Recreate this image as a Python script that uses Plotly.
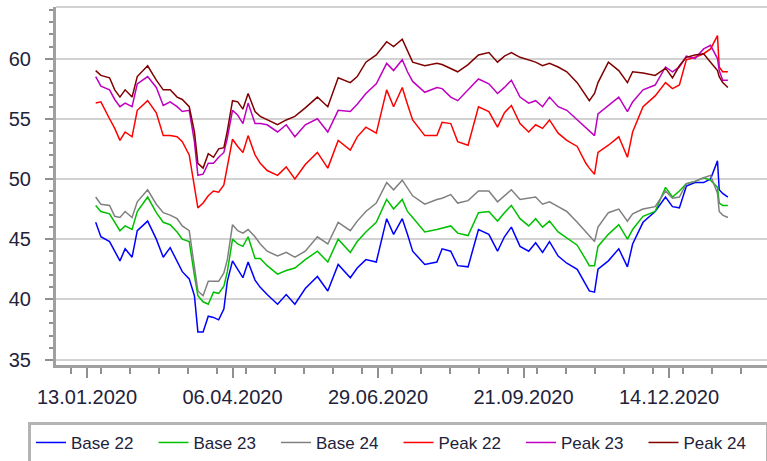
import plotly.graph_objects as go

dates = ['2020-01-18','2020-01-21','2020-01-26','2020-01-29','2020-02-01','2020-02-04','2020-02-08','2020-02-11','2020-02-17','2020-02-22',
         '2020-02-26','2020-03-01','2020-03-05','2020-03-08','2020-03-12','2020-03-15','2020-03-17','2020-03-20','2020-03-23','2020-03-26',
         '2020-03-29','2020-04-01','2020-04-03','2020-04-06','2020-04-09','2020-04-12','2020-04-15','2020-04-19','2020-04-22','2020-04-26',
         '2020-05-02','2020-05-07','2020-05-12','2020-05-18','2020-05-25','2020-05-31','2020-06-06','2020-06-13','2020-06-17','2020-06-22',
         '2020-06-28','2020-07-04','2020-07-08','2020-07-13','2020-07-16','2020-07-19','2020-07-26','2020-08-02','2020-08-05','2020-08-10',
         '2020-08-14','2020-08-20','2020-08-26','2020-09-01','2020-09-06','2020-09-10','2020-09-14','2020-09-19','2020-09-24','2020-09-28',
         '2020-10-02','2020-10-06','2020-10-11','2020-10-16','2020-10-22','2020-10-27','2020-10-29','2020-11-01','2020-11-03','2020-11-09',
         '2020-11-15','2020-11-20','2020-11-23','2020-11-29','2020-12-06','2020-12-12','2020-12-16','2020-12-20','2020-12-24','2020-12-29',
         '2021-01-03','2021-01-07','2021-01-11','2021-01-12','2021-01-14','2021-01-17']

base22 = [46.4,45.2,44.8,44.0,43.2,44.2,43.5,45.7,46.5,45.0,
          43.5,44.3,43.2,42.3,41.7,40.3,37.3,37.3,38.6,38.5,
          38.3,39.2,41.5,43.2,42.5,41.8,43.1,41.6,41.0,40.4,
          39.6,40.4,39.6,40.9,41.9,40.7,42.9,41.8,42.6,43.3,
          43.1,46.7,45.4,46.7,45.4,44.0,42.9,43.1,44.2,44.0,
          42.8,42.7,45.8,45.4,44.0,45.2,46.0,44.4,44.0,44.7,
          43.9,44.8,43.6,43.0,42.5,41.2,40.7,40.6,42.5,43.2,
          44.2,42.7,44.6,46.4,47.3,48.5,47.7,47.6,49.4,49.7,
          49.7,50.0,51.5,49.1,48.8,48.5]

base23 = [47.8,47.3,47.1,46.4,45.7,46.1,45.8,47.3,48.5,47.2,
          46.4,46.2,45.6,45.0,44.8,42.0,40.3,39.8,39.6,40.6,
          40.5,41.1,42.3,45.0,44.6,44.4,45.2,43.4,43.4,42.8,
          42.1,42.4,42.6,43.3,44.0,43.1,45.0,43.9,44.8,45.6,
          46.4,48.3,47.5,48.3,47.3,46.8,45.6,45.8,45.9,46.1,
          45.5,45.3,47.2,47.3,46.5,47.2,47.8,46.7,46.1,46.7,
          46.0,46.5,45.6,45.1,44.5,43.3,42.8,42.8,44.4,45.4,
          46.2,45.0,45.8,46.9,47.3,49.3,48.5,49.0,49.6,49.8,
          50.1,49.9,49.3,48.0,47.8,47.8]

base24 = [48.5,47.9,47.8,46.9,46.8,47.3,46.8,48.1,49.1,47.9,
          47.2,47.0,46.7,46.1,45.7,42.8,40.7,40.3,41.5,41.5,
          41.5,42.2,43.3,46.2,45.7,45.5,45.8,45.2,44.6,44.0,
          43.6,43.9,43.5,44.0,45.2,44.6,46.4,45.7,46.5,47.3,
          48.0,49.7,49.1,49.9,49.2,48.6,47.9,48.3,48.4,48.7,
          48.0,48.2,49.0,49.0,48.1,48.6,49.1,48.3,48.4,48.5,
          47.9,48.1,47.7,47.3,46.4,45.6,45.3,44.8,46.0,47.2,
          47.5,46.5,47.1,47.5,47.7,49.0,48.4,48.5,49.6,49.8,
          50.1,50.3,48.8,47.3,47.0,46.8]

peak22 = [56.3,56.4,55.0,54.2,53.2,53.9,53.5,55.7,56.5,55.5,
          53.6,53.6,53.5,53.1,52.0,49.4,47.6,48.0,48.6,49.0,
          48.9,49.5,51.0,53.3,52.7,52.2,53.6,52.0,51.3,50.7,
          50.3,51.0,50.0,51.2,52.2,50.9,53.2,52.4,53.5,54.3,
          53.8,57.4,56.0,57.6,56.2,54.9,53.6,53.6,54.7,54.6,
          53.1,52.8,56.0,55.6,54.3,55.5,56.1,54.6,53.9,54.5,
          54.2,54.9,53.8,53.2,52.7,51.3,50.9,50.4,52.2,52.8,
          53.5,51.8,53.9,56.0,56.9,58.0,57.5,57.8,59.9,60.1,
          60.4,60.8,61.9,59.3,58.9,58.9]

peak23 = [58.5,57.7,57.4,56.6,56.0,56.3,56.0,57.9,58.5,57.6,
          56.1,56.4,56.0,55.6,55.7,53.1,50.3,50.4,51.3,51.3,
          51.8,52.2,53.4,55.7,55.3,54.6,56.3,54.6,54.6,54.5,
          53.9,54.5,53.5,54.5,55.0,53.9,55.7,55.6,56.2,57.1,
          57.9,59.6,59.0,59.9,58.9,58.1,57.2,57.6,57.5,56.8,
          56.5,57.4,58.3,57.9,57.1,57.6,58.2,56.8,56.3,56.5,
          56.0,56.8,56.0,55.7,54.9,54.3,54.0,53.6,55.4,56.1,
          56.8,55.6,56.4,57.4,57.8,59.3,58.9,59.3,60.2,60.0,
          60.8,61.1,60.0,59.0,58.2,58.2]

peak24 = [59.0,58.6,58.4,57.4,56.8,57.4,56.8,58.5,59.4,58.2,
          57.4,57.4,56.8,56.6,56.0,53.9,51.3,50.9,52.1,51.8,
          52.5,52.6,54.0,56.5,56.4,55.8,57.1,55.6,55.2,54.9,
          54.5,54.9,55.2,55.9,56.8,56.0,58.4,58.0,58.5,59.7,
          60.3,61.4,61.0,61.6,60.7,59.7,59.4,59.6,59.5,59.2,
          58.9,59.5,60.3,60.5,59.7,60.2,60.5,60.1,59.9,59.7,
          59.4,59.6,59.3,58.9,58.0,56.9,56.5,57.1,58.0,59.7,
          59.0,58.0,58.9,58.8,58.6,59.2,58.4,59.4,60.1,60.3,
          60.4,59.7,59.0,58.5,58.0,57.6]

series_names = ['Base 22', 'Base 23', 'Base 24', 'Peak 22', 'Peak 23', 'Peak 24']
series_values = [base22, base23, base24, peak22, peak23, peak24]
series_colors = ['#0000ff', '#00c000', '#808080', '#ff0000', '#c000c0', '#800000']

x_tick_labels = ['13.01.2020', '06.04.2020', '29.06.2020', '21.09.2020', '14.12.2020']

font_family = 'Liberation Sans, Arial, sans-serif'
text_color = '#22223a'
axis_color = '#a0a0a0'
grid_color = '#d2d2d2'

fig = go.Figure()
for name, vals, col in zip(series_names, series_values, series_colors):
    fig.add_trace(go.Scatter(x=dates, y=vals, name=name, mode='lines',
                             line=dict(color=col, width=1.5)))

DAY = 86400000
fig.update_layout(
    width=767, height=461,
    margin=dict(l=56, r=0, t=7, b=96, autoexpand=False),
    paper_bgcolor='white', plot_bgcolor='white',
    font=dict(family=font_family, size=20, color=text_color),
    showlegend=True,
    legend=dict(orientation='h', x=-0.0394, xanchor='left', y=-0.159, yanchor='top',
                bordercolor='#b4b4b4', borderwidth=3, bgcolor='white',
                font=dict(size=17, color=text_color),
                entrywidth=77.5, entrywidthmode='pixels', itemwidth=30,
                traceorder='normal'),
    xaxis=dict(type='date', range=['2019-12-26 02:00', '2021-02-08 14:00'],
               tick0='2020-01-13', dtick=84 * DAY, tickformat='%d.%m.%Y',
               ticks='outside', ticklen=10, tickwidth=2, tickcolor='#909090',
               minor=dict(dtick=84 * DAY / 5, ticks='outside', ticklen=6, tickwidth=2, tickcolor='#909090', showgrid=False),
               showgrid=False, zeroline=False, automargin=False,
               showline=True, linecolor=axis_color, linewidth=3,
               tickfont=dict(size=20, color=text_color), ticklabelstandoff=2),
    yaxis=dict(range=[34.55, 64.28], tick0=35, dtick=5,
               ticks='outside', ticklen=8, tickwidth=2, tickcolor='#909090',
               minor=dict(dtick=1, ticks='outside', ticklen=4, tickwidth=2, tickcolor='#909090', showgrid=False),
               showgrid=True, gridcolor=grid_color, gridwidth=2, automargin=False,
               zeroline=False, showline=True, linecolor=axis_color, linewidth=3,
               tickfont=dict(size=20, color=text_color), ticklabelstandoff=10),
)
fig.add_shape(type='line', xref='paper', yref='paper', x0=0, x1=1, y0=1, y1=1,
              line=dict(color=grid_color, width=2))

fig.write_html('out.html', config={'displayModeBar': False},
               post_script="document.body.style.margin='0px';")
